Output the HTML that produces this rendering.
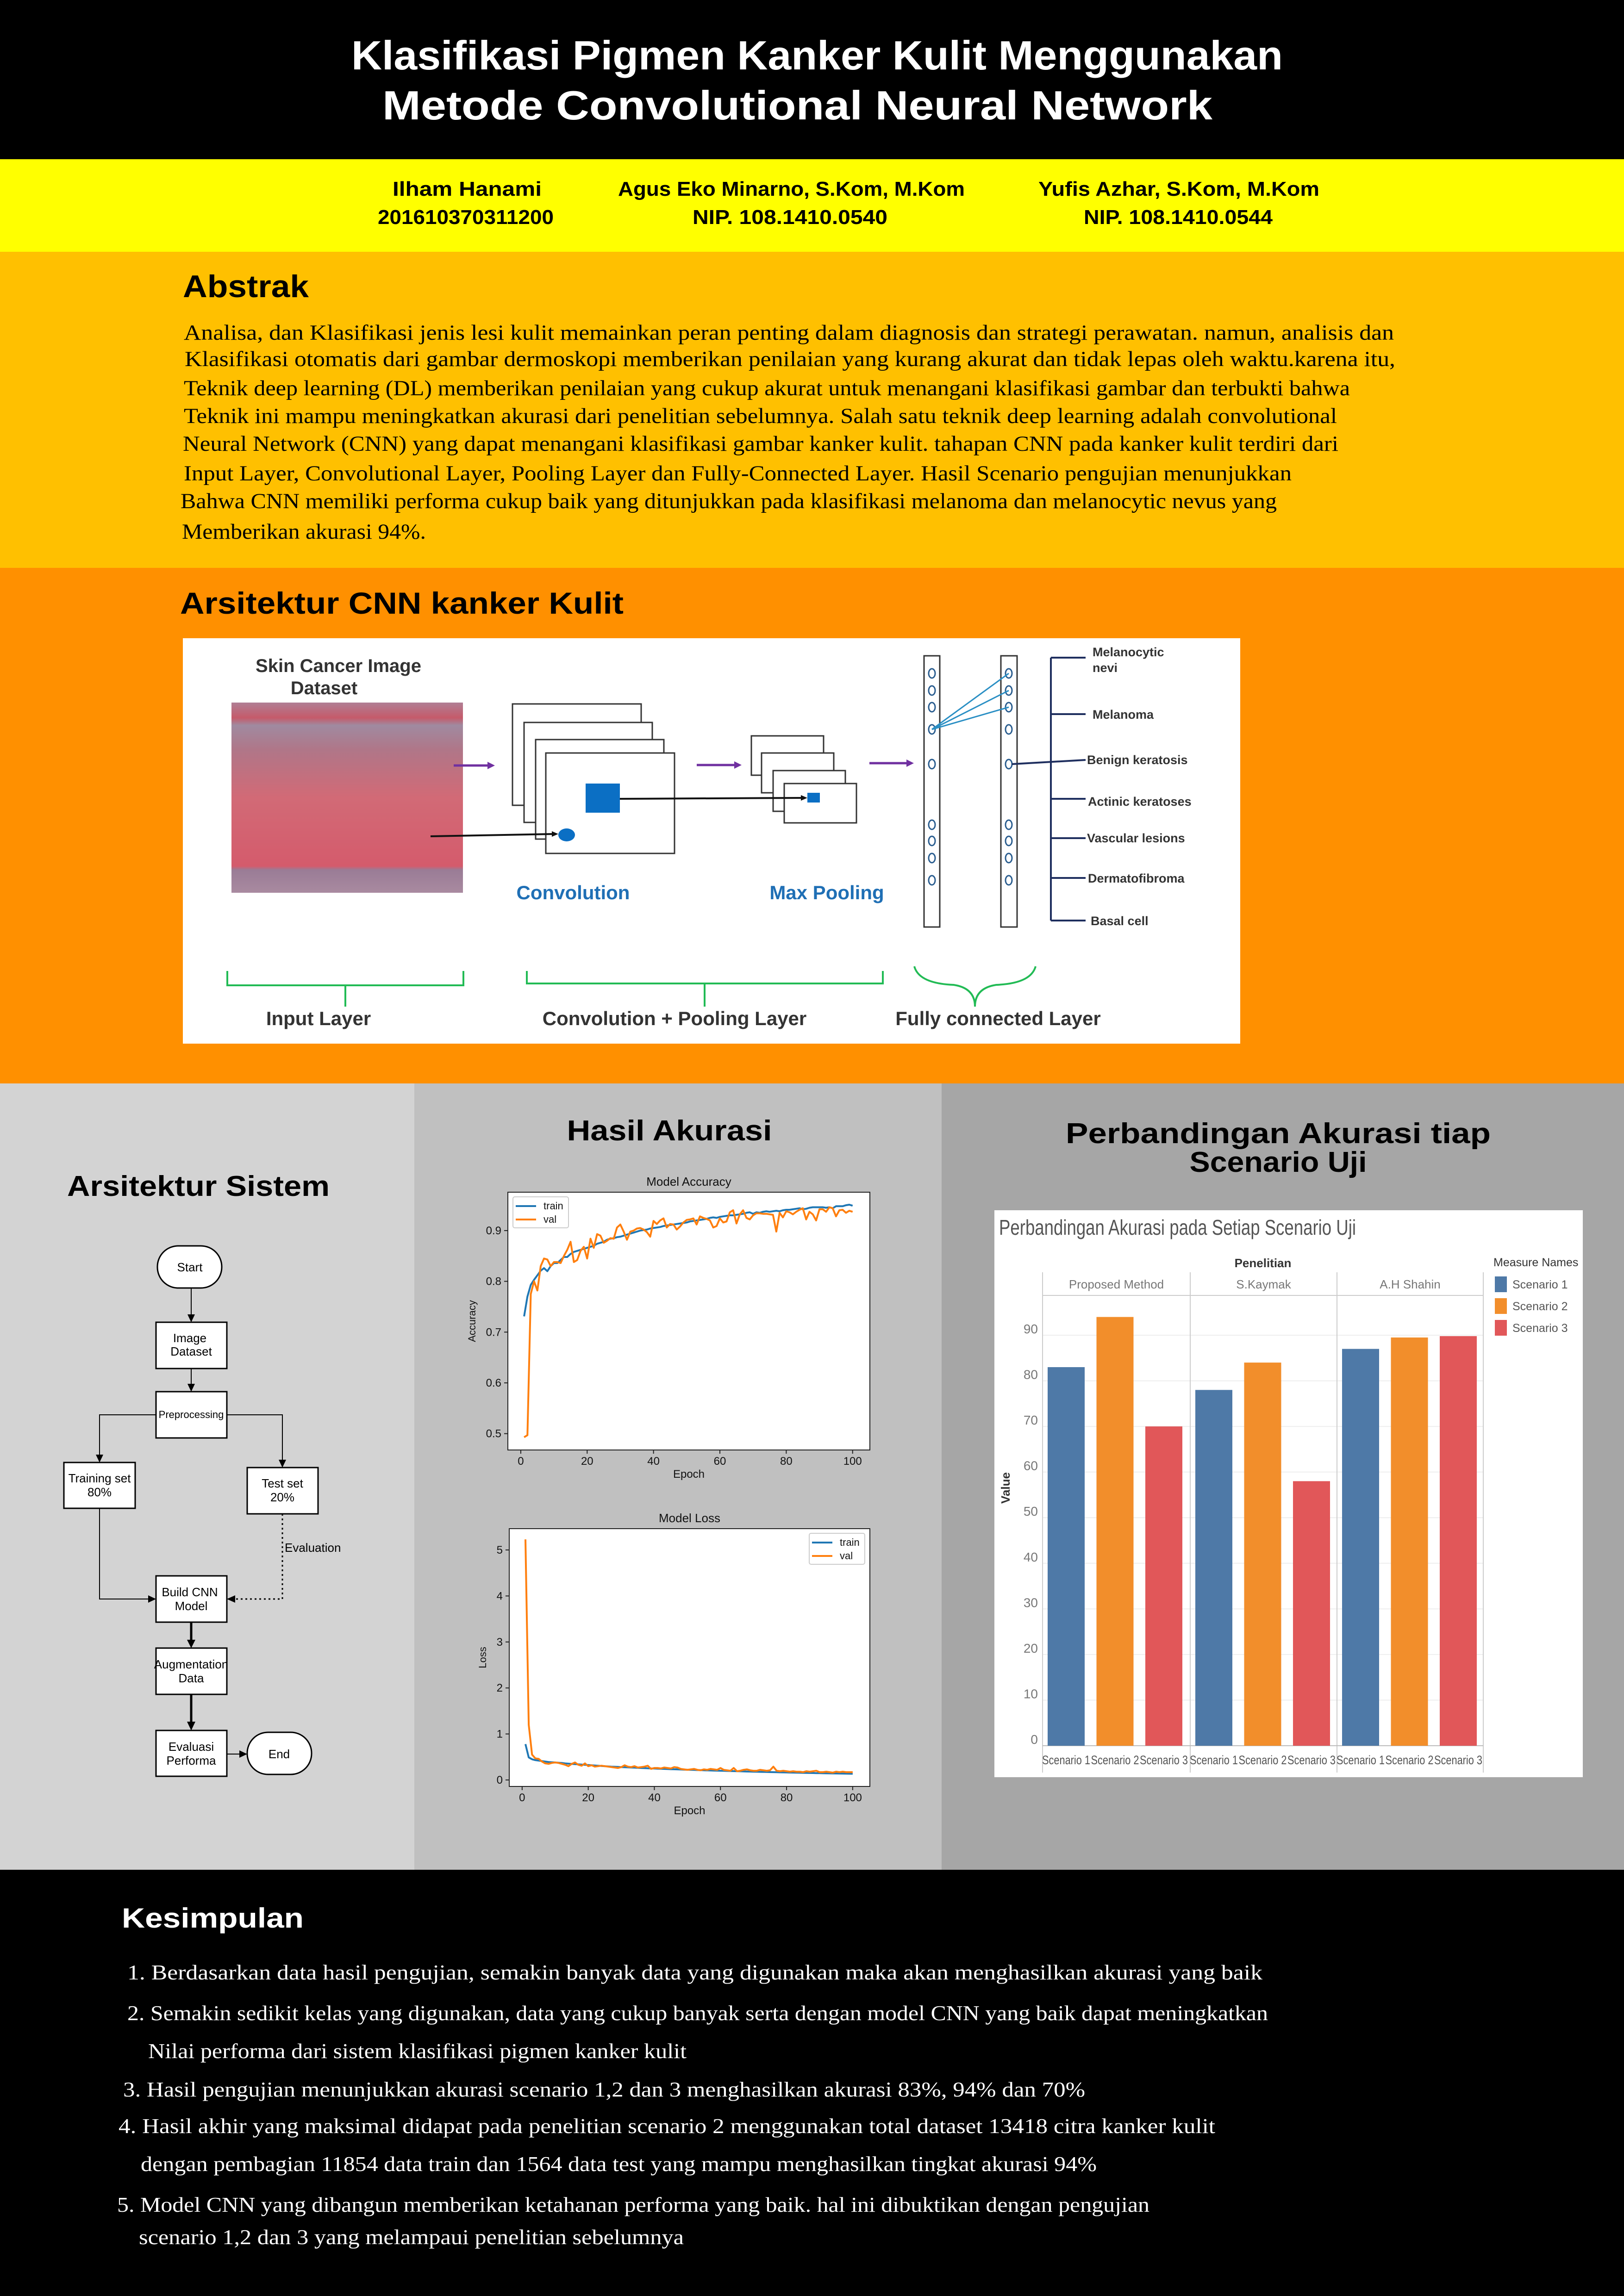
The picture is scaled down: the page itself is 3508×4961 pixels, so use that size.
<!DOCTYPE html>
<html><head><meta charset="utf-8"><title>Klasifikasi Pigmen Kanker Kulit</title>
<style>
html,body{margin:0;padding:0;background:#000;}
svg{display:block;}
.t{font-family:"Liberation Sans",sans-serif;}
.s{font-family:"Liberation Serif",serif;}
</style></head>
<body>
<svg id="poster" xmlns="http://www.w3.org/2000/svg" width="3508" height="4961" viewBox="0 0 3508 4961">
<rect x="0" y="0" width="3508" height="344" fill="#000"/>
<rect x="0" y="344" width="3508" height="200" fill="#ffff00"/>
<rect x="0" y="544" width="3508" height="683" fill="#ffc000"/>
<rect x="0" y="1227" width="3508" height="1114" fill="#ff9000"/>
<rect x="0" y="2341" width="895" height="1699" fill="#d3d3d3"/>
<rect x="895" y="2341" width="1139" height="1699" fill="#c0c0c0"/>
<rect x="2034" y="2341" width="1474" height="1699" fill="#a6a6a6"/>
<rect x="0" y="4040" width="3508" height="921" fill="#000"/>

<g class="t" fill="#fff" font-weight="bold" font-size="88">
<text x="759" y="150" textLength="2012" lengthAdjust="spacingAndGlyphs">Klasifikasi Pigmen Kanker Kulit Menggunakan</text>
<text x="826" y="258" textLength="1793" lengthAdjust="spacingAndGlyphs">Metode Convolutional Neural Network</text>
</g>

<g class="t" fill="#000" font-weight="bold" font-size="44">
<text x="848" y="423" textLength="322" lengthAdjust="spacingAndGlyphs">Ilham Hanami</text>
<text x="816" y="484" textLength="380" lengthAdjust="spacingAndGlyphs">201610370311200</text>
<text x="1335" y="423" textLength="749" lengthAdjust="spacingAndGlyphs">Agus Eko Minarno, S.Kom, M.Kom</text>
<text x="1496" y="484" textLength="421" lengthAdjust="spacingAndGlyphs">NIP. 108.1410.0540</text>
<text x="2243" y="423" textLength="607" lengthAdjust="spacingAndGlyphs">Yufis Azhar, S.Kom, M.Kom</text>
<text x="2341" y="484" textLength="408" lengthAdjust="spacingAndGlyphs">NIP. 108.1410.0544</text>
</g>

<text class="t" x="395" y="642" font-size="68" font-weight="bold" fill="#000" textLength="272" lengthAdjust="spacingAndGlyphs">Abstrak</text>
<g class="s" font-size="47" fill="#000">
<text x="397" y="734" textLength="2614" lengthAdjust="spacingAndGlyphs">Analisa, dan Klasifikasi jenis lesi kulit memainkan peran penting dalam diagnosis dan strategi perawatan. namun, analisis dan</text>
<text x="399" y="791" textLength="2615" lengthAdjust="spacingAndGlyphs">Klasifikasi otomatis dari gambar dermoskopi memberikan penilaian yang kurang akurat dan tidak lepas oleh waktu.karena itu,</text>
<text x="397" y="854" textLength="2519" lengthAdjust="spacingAndGlyphs">Teknik deep learning (DL)  memberikan penilaian yang cukup akurat untuk menangani klasifikasi gambar dan terbukti bahwa</text>
<text x="397" y="914" textLength="2491" lengthAdjust="spacingAndGlyphs">Teknik ini mampu meningkatkan akurasi dari penelitian sebelumnya. Salah satu teknik deep learning adalah convolutional</text>
<text x="395" y="974" textLength="2496" lengthAdjust="spacingAndGlyphs">Neural Network (CNN) yang dapat menangani klasifikasi gambar kanker kulit. tahapan CNN pada kanker kulit terdiri dari</text>
<text x="397" y="1038" textLength="2393" lengthAdjust="spacingAndGlyphs">Input Layer, Convolutional Layer, Pooling Layer dan Fully-Connected Layer. Hasil Scenario pengujian menunjukkan</text>
<text x="390" y="1098" textLength="2368" lengthAdjust="spacingAndGlyphs">Bahwa CNN memiliki performa cukup baik yang ditunjukkan pada klasifikasi melanoma dan melanocytic nevus yang</text>
<text x="393" y="1164" textLength="527" lengthAdjust="spacingAndGlyphs">Memberikan akurasi 94%.</text>
</g>

<text class="t" x="389" y="1326" font-size="66" font-weight="bold" fill="#000" textLength="958" lengthAdjust="spacingAndGlyphs">Arsitektur CNN kanker Kulit</text>
<g>
<rect x="395" y="1379" width="2284" height="876" fill="#fff"/>
<defs>
<linearGradient id="skin" x1="0" y1="0" x2="0" y2="1">
<stop offset="0" stop-color="#b07f95"/><stop offset="0.08" stop-color="#c55a6a"/><stop offset="0.12" stop-color="#a08aa0"/>
<stop offset="0.25" stop-color="#b07688"/><stop offset="0.5" stop-color="#d26a76"/><stop offset="0.86" stop-color="#d45b6c"/>
<stop offset="0.88" stop-color="#9a7c96"/><stop offset="1" stop-color="#a98aa0"/></linearGradient>
</defs>
<g class="t" font-weight="bold" font-size="40" fill="#333" text-anchor="middle">
<text x="731" y="1452">Skin Cancer Image</text>
<text x="700" y="1500">Dataset</text>
</g>
<rect x="500" y="1518" width="500" height="411" fill="url(#skin)"/>
<g stroke="#7030a0" stroke-width="5" fill="#7030a0">
<line x1="980" y1="1654" x2="1055" y2="1654"/><polygon points="1069,1654 1053,1646 1053,1662" stroke="none"/>
<line x1="1505" y1="1653" x2="1588" y2="1653"/><polygon points="1602,1653 1586,1645 1586,1661" stroke="none"/>
<line x1="1878" y1="1649" x2="1960" y2="1649"/><polygon points="1974,1649 1958,1641 1958,1657" stroke="none"/>
</g>
<g fill="#fff" stroke="#333" stroke-width="3">
<rect x="1107" y="1521" width="278" height="219"/><rect x="1132" y="1561" width="277" height="216"/>
<rect x="1157" y="1598" width="277" height="215"/><rect x="1179" y="1627" width="278" height="217"/>
</g>
<rect x="1265" y="1693" width="74" height="63" fill="#0b6fc4"/>
<ellipse cx="1224" cy="1804" rx="18" ry="14" fill="#0b6fc4"/>
<g fill="#fff" stroke="#333" stroke-width="3">
<rect x="1623" y="1590" width="156" height="85"/><rect x="1645" y="1627" width="156" height="86"/>
<rect x="1670" y="1665" width="156" height="88"/><rect x="1694" y="1693" width="156" height="85"/>
</g>
<rect x="1744" y="1713" width="27" height="21" fill="#0b6fc4"/>
<g stroke="#111" stroke-width="4" fill="#111">
<line x1="930" y1="1807" x2="1196" y2="1802"/><polygon points="1206,1802 1192,1796 1192,1808" stroke="none"/>
<line x1="1339" y1="1726" x2="1734" y2="1724"/><polygon points="1744,1724 1730,1718 1730,1730" stroke="none"/>
</g>
<g class="t" font-weight="bold" font-size="42" fill="#1f6fb5" text-anchor="middle">
<text x="1238" y="1943">Convolution</text>
<text x="1786" y="1943">Max Pooling</text>
</g>
<g fill="#fff" stroke="#333" stroke-width="3">
<rect x="1996" y="1417" width="34" height="586"/><rect x="2162" y="1417" width="35" height="586"/>
</g>
<g id="fcNodes" fill="none" stroke="#2a5d8f" stroke-width="3"></g>
<g stroke="#2a8fc4" stroke-width="3">
<line x1="2013" y1="1576" x2="2179" y2="1455"/><line x1="2013" y1="1576" x2="2179" y2="1492"/><line x1="2013" y1="1576" x2="2179" y2="1528"/>
</g>
<g stroke="#1f2f5f" stroke-width="4">
<line x1="2270" y1="1421" x2="2270" y2="1989"/>
<line x1="2270" y1="1421" x2="2345" y2="1421"/><line x1="2270" y1="1543" x2="2345" y2="1543"/>
<line x1="2186" y1="1651" x2="2345" y2="1642"/><line x1="2270" y1="1726" x2="2345" y2="1726"/>
<line x1="2270" y1="1811" x2="2345" y2="1811"/><line x1="2270" y1="1897" x2="2345" y2="1897"/>
<line x1="2270" y1="1989" x2="2345" y2="1989"/>
</g>
<g class="t" font-weight="bold" font-size="27" fill="#333">
<text x="2360" y="1418">Melanocytic</text>
<text x="2360" y="1452">nevi</text>
<text x="2360" y="1553">Melanoma</text>
<text x="2348" y="1651">Benign keratosis</text>
<text x="2350" y="1741">Actinic keratoses</text>
<text x="2348" y="1820">Vascular lesions</text>
<text x="2350" y="1907">Dermatofibroma</text>
<text x="2356" y="1999">Basal cell</text>
</g>
<g fill="none" stroke="#22bb55" stroke-width="4">
<path d="M491,2098 L491,2129 L746,2129 L746,2175 M746,2129 L1001,2129 L1001,2098"/>
<path d="M1138,2098 L1138,2125 L1522,2125 L1522,2175 M1522,2125 L1907,2125 L1907,2098"/>
<path d="M1975,2088 Q1985,2125 2060,2128 Q2106,2135 2106,2175 Q2106,2135 2152,2128 Q2227,2125 2237,2088"/>
</g>
<g class="t" font-weight="bold" font-size="42" fill="#333" text-anchor="middle">
<text x="688" y="2215">Input Layer</text>
<text x="1457" y="2215">Convolution + Pooling Layer</text>
<text x="2156" y="2215">Fully connected Layer</text>
</g>
</g>

<text class="t" x="145" y="2584" font-size="62" font-weight="bold" fill="#000" textLength="567" lengthAdjust="spacingAndGlyphs">Arsitektur Sistem</text>
<g class="t" font-size="26" fill="#000">
<g fill="#fff" stroke="#000" stroke-width="3">
<rect x="340" y="2692" width="139" height="91" rx="45"/>
<rect x="337" y="2857" width="153" height="100"/>
<rect x="337" y="3007" width="153" height="100"/>
<rect x="138" y="3160" width="154" height="99"/>
<rect x="534" y="3171" width="153" height="100"/>
<rect x="337" y="3405" width="153" height="100"/>
<rect x="337" y="3561" width="153" height="100"/>
<rect x="337" y="3739" width="153" height="99"/>
<rect x="534" y="3743" width="139" height="91" rx="45"/>
</g>
<g stroke="#000" stroke-width="2" fill="none">
<line x1="413" y1="2783" x2="413" y2="2840"/>
<line x1="413" y1="2957" x2="413" y2="2992"/>
<polyline points="337,3057 215,3057 215,3143"/>
<polyline points="490,3057 610,3057 610,3154"/>
<polyline points="215,3259 215,3455 320,3455"/>
<polyline points="610,3271 610,3455 508,3455" stroke-dasharray="4,6" stroke-width="3"/>
<line x1="413" y1="3505" x2="413" y2="3545" stroke-width="5"/>
<line x1="413" y1="3661" x2="413" y2="3722" stroke-width="5"/>
<line x1="490" y1="3790" x2="518" y2="3790"/>
</g>
<g fill="#000">
<polygon points="413,2857 405,2840 421,2840"/><polygon points="413,3007 405,2990 421,2990"/>
<polygon points="215,3160 207,3143 223,3143"/><polygon points="610,3171 602,3154 618,3154"/>
<polygon points="337,3455 320,3447 320,3463"/><polygon points="490,3455 508,3447 508,3463"/>
<polygon points="413,3561 404,3543 422,3543"/><polygon points="413,3739 404,3720 422,3720"/>
<polygon points="534,3790 517,3782 517,3798"/>
</g>
<g text-anchor="middle">
<text x="410" y="2747">Start</text>
<text x="410" y="2900">Image</text><text x="413" y="2929">Dataset</text>
<text x="413" y="3064" font-size="22">Preprocessing</text>
<text x="215" y="3203">Training set</text><text x="215" y="3233">80%</text>
<text x="610" y="3214">Test set</text><text x="610" y="3244">20%</text>
<text x="410" y="3449">Build CNN</text><text x="413" y="3479">Model</text>
<text x="413" y="3605">Augmentation</text><text x="413" y="3635">Data</text>
<text x="413" y="3783">Evaluasi</text><text x="413" y="3813">Performa</text>
<text x="603" y="3799">End</text>
</g>
<text x="615" y="3353">Evaluation</text>
</g>

<text class="t" x="1446" y="2464" font-size="62" font-weight="bold" fill="#000" text-anchor="middle" textLength="443" lengthAdjust="spacingAndGlyphs">Hasil Akurasi</text>
<g id="accChart" class="t"></g>
<g id="lossChart" class="t"></g>

<g class="t" font-size="62" font-weight="bold" fill="#000" text-anchor="middle">
<text x="2761" y="2470" textLength="918" lengthAdjust="spacingAndGlyphs">Perbandingan Akurasi tiap</text>
<text x="2761" y="2532" textLength="383" lengthAdjust="spacingAndGlyphs">Scenario Uji</text>
</g>
<g id="barChart" class="t"></g>

<text class="t" x="263" y="4165" font-size="60" font-weight="bold" fill="#fff" textLength="393" lengthAdjust="spacingAndGlyphs">Kesimpulan</text>
<g class="s" font-size="46" fill="#fff">
<text x="275" y="4277" textLength="2452" lengthAdjust="spacingAndGlyphs">1. Berdasarkan data hasil pengujian, semakin banyak data yang digunakan maka akan menghasilkan akurasi yang baik</text>
<text x="275" y="4365" textLength="2464" lengthAdjust="spacingAndGlyphs">2. Semakin sedikit kelas yang digunakan, data yang cukup banyak serta dengan model CNN yang baik dapat meningkatkan</text>
<text x="320" y="4447" textLength="1163" lengthAdjust="spacingAndGlyphs">Nilai performa dari sistem klasifikasi pigmen kanker kulit</text>
<text x="266" y="4530" textLength="2078" lengthAdjust="spacingAndGlyphs">3. Hasil pengujian menunjukkan akurasi scenario 1,2 dan 3 menghasilkan akurasi 83%, 94% dan 70%</text>
<text x="256" y="4609" textLength="2369" lengthAdjust="spacingAndGlyphs">4. Hasil akhir yang maksimal didapat pada penelitian scenario 2 menggunakan total dataset 13418  citra kanker kulit</text>
<text x="304" y="4691" textLength="2065" lengthAdjust="spacingAndGlyphs">dengan pembagian 11854 data train dan 1564 data test yang mampu menghasilkan tingkat akurasi 94%</text>
<text x="253" y="4779" textLength="2230" lengthAdjust="spacingAndGlyphs">5. Model CNN yang dibangun memberikan ketahanan performa yang baik. hal ini dibuktikan dengan pengujian</text>
<text x="300" y="4849" textLength="1177" lengthAdjust="spacingAndGlyphs">scenario 1,2 dan 3 yang melampaui penelitian sebelumnya</text>
</g>
</svg>
<script>
var NS = "http://www.w3.org/2000/svg";
var trainAcc = [0.731,0.770,0.793,0.803,0.812,0.821,0.826,0.820,0.830,0.836,
0.836,0.842,0.848,0.848,0.854,0.858,0.860,0.862,0.864,0.866,
0.868,0.870,0.874,0.876,0.878,0.882,0.884,0.885,0.887,0.888,
0.890,0.892,0.894,0.896,0.898,0.900,0.901,0.902,0.904,0.905,
0.906,0.907,0.909,0.910,0.911,0.912,0.913,0.914,0.915,0.916,
0.918,0.919,0.920,0.921,0.922,0.923,0.925,0.926,0.925,0.927,
0.928,0.929,0.930,0.930,0.931,0.932,0.933,0.935,0.936,0.933,
0.936,0.935,0.937,0.938,0.937,0.938,0.939,0.938,0.940,0.941,
0.941,0.942,0.943,0.944,0.942,0.943,0.945,0.946,0.946,0.946,
0.946,0.945,0.946,0.944,0.948,0.948,0.948,0.950,0.951,0.949];
var valAcc = [0.493,0.497,0.775,0.800,0.782,0.830,0.845,0.843,0.830,0.838,
0.838,0.836,0.850,0.862,0.878,0.838,0.842,0.860,0.868,0.845,
0.884,0.866,0.893,0.890,0.876,0.880,0.885,0.884,0.906,0.912,
0.898,0.882,0.898,0.900,0.904,0.905,0.902,0.897,0.888,0.919,
0.913,0.920,0.924,0.906,0.913,0.912,0.902,0.908,0.916,0.921,
0.922,0.924,0.912,0.928,0.925,0.923,0.920,0.906,0.909,0.924,
0.916,0.918,0.936,0.940,0.914,0.932,0.940,0.925,0.922,0.930,
0.934,0.934,0.933,0.933,0.932,0.931,0.898,0.935,0.926,0.938,
0.936,0.932,0.937,0.941,0.944,0.922,0.937,0.932,0.920,0.942,
0.942,0.937,0.946,0.944,0.928,0.940,0.941,0.935,0.939,0.937];
var trainLoss = [0.78,0.49,0.45,0.43,0.42,0.41,0.40,0.39,0.385,0.38,
0.375,0.37,0.36,0.355,0.35,0.345,0.34,0.335,0.33,0.325,
0.32,0.315,0.31,0.305,0.30,0.295,0.29,0.287,0.284,0.28,
0.277,0.274,0.27,0.267,0.264,0.26,0.257,0.254,0.25,0.248,
0.245,0.242,0.24,0.237,0.234,0.232,0.23,0.227,0.224,0.222,
0.22,0.218,0.215,0.213,0.21,0.208,0.206,0.204,0.202,0.20,
0.198,0.196,0.194,0.192,0.19,0.188,0.186,0.184,0.182,0.18,
0.178,0.176,0.175,0.173,0.171,0.17,0.168,0.166,0.165,0.163,
0.161,0.16,0.158,0.157,0.155,0.154,0.152,0.151,0.149,0.148,
0.146,0.145,0.144,0.142,0.141,0.14,0.139,0.137,0.136,0.135];
var valLoss = [5.23,1.20,0.55,0.47,0.46,0.40,0.36,0.35,0.37,0.38,
0.37,0.35,0.33,0.30,0.35,0.38,0.33,0.31,0.36,0.30,
0.32,0.29,0.30,0.31,0.30,0.29,0.28,0.27,0.26,0.28,
0.32,0.29,0.28,0.30,0.27,0.28,0.29,0.31,0.24,0.26,
0.26,0.25,0.27,0.26,0.25,0.28,0.27,0.24,0.23,0.22,
0.23,0.24,0.22,0.21,0.23,0.22,0.24,0.23,0.22,0.26,
0.22,0.21,0.20,0.26,0.19,0.20,0.22,0.23,0.21,0.20,
0.20,0.22,0.21,0.20,0.21,0.29,0.20,0.19,0.20,0.19,
0.18,0.19,0.18,0.18,0.17,0.19,0.18,0.19,0.20,0.17,
0.17,0.18,0.17,0.16,0.18,0.17,0.18,0.17,0.17,0.17];
var epochTicks = [0,20,40,60,80,100];
var accTicks = [0.5,0.6,0.7,0.8,0.9];
var lossTicks = [0,1,2,3,4,5];
var studies = ["Proposed Method","S.Kaymak","A.H Shahin"];
var scenarios = ["Scenario 1","Scenario 2","Scenario 3"];
var scenario1Values = [83,78,87];
var scenario2Values = [94,84,89.5];
var scenario3Values = [70,58,89.8];
var valueTicks = [0,10,20,30,40,50,60,70,80,90];
var fcNodeRows = [1455,1492,1528,1576,1651,1782,1817,1854,1902];

function mk(tag, attrs, parent){var e=document.createElementNS(NS,tag);for(var k in attrs)e.setAttribute(k,attrs[k]);parent.appendChild(e);return e;}
function txt(s,attrs,parent){var e=mk("text",attrs,parent);e.textContent=s;return e;}

(function(){
  var g=document.getElementById("fcNodes");
  fcNodeRows.forEach(function(y){
    [2013,2179].forEach(function(x){
      var c=mk("ellipse",{cx:x,cy:y,rx:7,ry:10},g);
      
      
    });
  });
})();

function lineChart(gid, box, xDom, yDom, yTicks, fmt, series, title, ylabel, legendPos){
  var g=document.getElementById(gid);
  var X=function(v){return box.x0+(v-xDom[0])/(xDom[1]-xDom[0])*(box.x1-box.x0);};
  var Y=function(v){return box.y1-(v-yDom[0])/(yDom[1]-yDom[0])*(box.y1-box.y0);};
  var bg=mk("rect",{x:box.x0,y:box.y0,width:box.x1-box.x0,height:box.y1-box.y0,fill:"#fff",stroke:"#222","stroke-width":2},g);
  
  
  var t=txt(title,{x:(box.x0+box.x1)/2,y:box.y0-14,"font-size":26,"text-anchor":"middle",fill:"#111"},g);
  
  
  epochTicks.forEach(function(v){
    mk("line",{x1:X(v),y1:box.y1,x2:X(v),y2:box.y1+8,stroke:"#222","stroke-width":2},g);
    var l=txt(String(v),{x:X(v),y:box.y1+32,"font-size":24,"text-anchor":"middle",fill:"#111"},g);
    
    
  });
  yTicks.forEach(function(v){
    mk("line",{x1:box.x0-8,y1:Y(v),x2:box.x0,y2:Y(v),stroke:"#222","stroke-width":2},g);
    var l=txt(fmt(v),{x:box.x0-14,y:Y(v)+8,"font-size":24,"text-anchor":"end",fill:"#111"},g);
    
    
  });
  var xl=txt("Epoch",{x:(box.x0+box.x1)/2,y:box.y1+60,"font-size":24,"text-anchor":"middle",fill:"#111"},g);
  
  
  var yx=box.x0-(ylabel==="Accuracy"?70:50), yy=(box.y0+box.y1)/2;
  var yl=txt(ylabel,{x:yx,y:yy,"font-size":22,"text-anchor":"middle",fill:"#111",transform:"rotate(-90 "+yx+" "+yy+")"},g);
  
  
  series.forEach(function(s){
    var pts=s.data.map(function(v,i){return X(i+1).toFixed(1)+","+Y(v).toFixed(1);}).join(" ");
    var p=mk("polyline",{points:pts,fill:"none",stroke:s.color,"stroke-width":4,"stroke-linejoin":"round"},g);
    
    
  });
  var lg=mk("g",{},g);
  
  
  mk("rect",{x:legendPos[0],y:legendPos[1],width:120,height:67,fill:"#fff",stroke:"#ccc","stroke-width":2,rx:4},lg);
  series.forEach(function(s,i){
    var yy=legendPos[1]+20+i*29;
    mk("line",{x1:legendPos[0]+6,y1:yy,x2:legendPos[0]+50,y2:yy,stroke:s.color,"stroke-width":4},lg);
    var e=txt(s.name,{x:legendPos[0]+66,y:yy+7,"font-size":22,fill:"#111"},lg);
    
    
  });
}
lineChart("accChart",{x0:1097,x1:1879,y0:2576,y1:3133},[-3.9,105.2],[0.4678,0.9756],accTicks,function(v){return v.toFixed(1);},
  [{name:"train",data:trainAcc,color:"#1f77b4"},{name:"val",data:valAcc,color:"#ff7f0e"}],"Model Accuracy","Accuracy",[1108,2586]);
lineChart("lossChart",{x0:1100,x1:1879,y0:3303,y1:3860},[-3.9,105.2],[-0.141,5.463],lossTicks,function(v){return String(v);},
  [{name:"train",data:trainLoss,color:"#1f77b4"},{name:"val",data:valLoss,color:"#ff7f0e"}],"Model Loss","Loss",[1748,3313]);

(function(){
  var g=document.getElementById("barChart");
  var bg=mk("rect",{x:2148,y:2615,width:1271,height:1225,fill:"#fff"},g);
  
  
  var t=txt("Perbandingan Akurasi pada Setiap Scenario Uji",{x:2158,y:2668,"font-size":46,fill:"#555",textLength:771,lengthAdjust:"spacingAndGlyphs"},g);
  
  
  var pen=txt("Penelitian",{x:2728,y:2738,"font-size":26,"font-weight":"bold","text-anchor":"middle",fill:"#333"},g);
  
  
  var y0=3772, perUnit=(3772-2885)/90;
  var Y=function(v){return y0-v*perUnit;};
  var facetX=[2252,2571,2888,3204];
  var colors=["#4e79a7","#f28e2b","#e15759"];
  valueTicks.forEach(function(v){
    mk("line",{x1:2252,y1:Y(v),x2:3204,y2:Y(v),stroke:"#eee","stroke-width":2},g);
    var l=txt(String(v),{x:2242,y:Y(v)-4,"font-size":28,"text-anchor":"end",fill:"#777"},g);
    
    
  });
  facetX.forEach(function(x){mk("line",{x1:x,y1:2749,x2:x,y2:3830,stroke:"#ccc","stroke-width":2},g);});
  mk("line",{x1:2252,y1:2799,x2:3204,y2:2799,stroke:"#ccc","stroke-width":2},g);
  mk("line",{x1:2252,y1:y0,x2:3204,y2:y0,stroke:"#bbb","stroke-width":2},g);
  var vt=txt("Value",{x:2181,y:3215,"font-size":26,"font-weight":"bold",fill:"#333","text-anchor":"middle",transform:"rotate(-90 2181 3215)"},g);
  
  
  var series=[scenario1Values,scenario2Values,scenario3Values];
  studies.forEach(function(st,i){
    var fx=facetX[i], w=facetX[i+1]-facetX[i];
    var h=txt(st,{x:fx+w/2,y:2784,"font-size":26,"text-anchor":"middle",fill:"#777"},g);
    
    
    scenarios.forEach(function(sc,j){
      var bx=fx+11+j*105.5, v=series[j][i];
      var b=mk("rect",{x:bx,y:Y(v),width:80,height:y0-Y(v),fill:colors[j]},g);
      
      
      var l=txt(sc,{x:bx+40,y:3812,"font-size":27,"text-anchor":"middle",fill:"#555",textLength:104,lengthAdjust:"spacingAndGlyphs"},g);
      
      
    });
  });
  var mn=txt("Measure Names",{x:3226,y:2736,"font-size":25,fill:"#333"},g);
  
  
  scenarios.forEach(function(sc,j){
    var yy=2758+j*47;
    mk("rect",{x:3229,y:yy,width:26,height:34,fill:colors[j]},g);
    var e=txt(sc,{x:3267,y:yy+26,"font-size":25,fill:"#555"},g);
    
    
  });
})();
</script>
</body></html>
